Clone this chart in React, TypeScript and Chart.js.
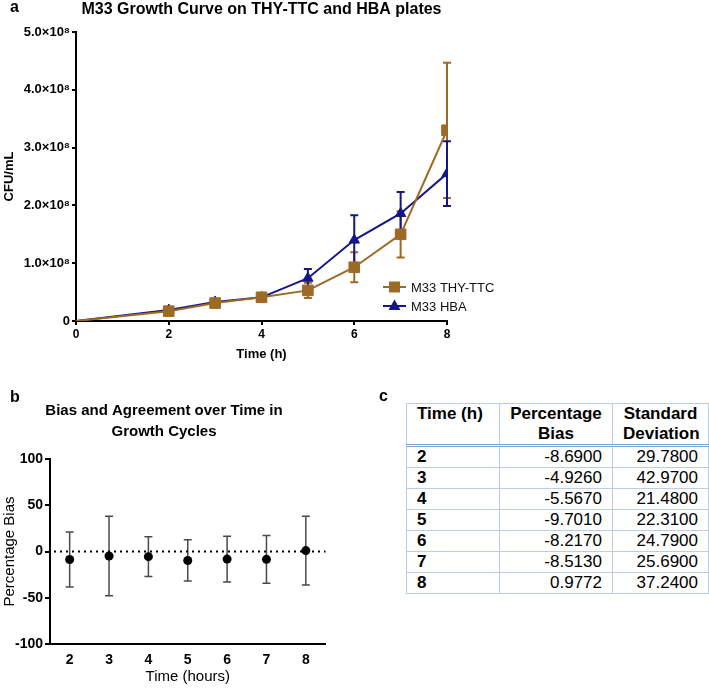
import React, { useEffect, useRef } from "react";
import { Chart, registerables } from "chart.js";

Chart.register(...registerables);

const FONT = "'Liberation Sans', Arial, Helvetica, sans-serif";
Chart.defaults.font.family = FONT;

// ---------- Panel a: growth curve ----------
const hours = [0, 2, 3, 4, 5, 6, 7, 8];
const thyMean = [0, 1.7e7, 3.1e7, 4.1e7, 5.3e7, 9.3e7, 1.5e8, 3.3e8];
const thyErr = [0, 0.3e7, 0.4e7, 0.3e7, 1.3e7, 2.6e7, 4.0e7, 1.17e8];
const hbaMean = [0, 1.9e7, 3.3e7, 4.1e7, 7.4e7, 1.4e8, 1.86e8, 2.55e8];
const hbaErr = [0, 0.2e7, 0.3e7, 0.3e7, 1.6e7, 4.3e7, 3.7e7, 0.56e8];
const cfuTicks = [0, 1e8, 2e8, 3e8, 4e8, 5e8];
const hourTicks = [0, 2, 4, 6, 8];
const seriesNames = ["M33 THY-TTC", "M33 HBA"];
const titleA = "M33 Growth Curve on THY-TTC and HBA plates";

// ---------- Panel b / c: bias ----------
const biasTimes = ["2", "3", "4", "5", "6", "7", "8"];
const biasValues = [-8.69, -4.926, -5.567, -9.701, -8.217, -8.513, 0.9772];
const sdValues = [29.78, 42.97, 21.48, 22.31, 24.79, 25.69, 37.24];
const biasTicks = [-100, -50, 0, 50, 100];
const tableHeaders = [["Time (h)"], ["Percentage", "Bias"], ["Standard", "Deviation"]];

const BROWN = "#9d6a25";
const NAVY = "#161688";

const errorBarsPlugin = {
  id: "errorBars",
  beforeDatasetsDraw(chart: any) {
    const { ctx } = chart;
    const yScale = chart.scales.y;
    chart.data.datasets.forEach((ds: any, i: number) => {
      const errs: number[] | undefined = ds.errorBars;
      if (!errs) return;
      const meta = chart.getDatasetMeta(i);
      ctx.save();
      ctx.strokeStyle = ds.errorColor || ds.borderColor;
      ctx.lineWidth = ds.errorWidth || 2;
      meta.data.forEach((pt: any, j: number) => {
        const e = errs[j];
        if (!e) return;
        const raw = ds.data[j];
        const v = typeof raw === "number" ? raw : raw.y;
        const yt = yScale.getPixelForValue(v + e);
        const yb = yScale.getPixelForValue(v - e);
        const x = pt.x;
        const c = ds.capHalf || 4;
        ctx.beginPath();
        ctx.moveTo(x, yt);
        ctx.lineTo(x, yb);
        ctx.moveTo(x - c, yt);
        ctx.lineTo(x + c, yt);
        ctx.moveTo(x - c, yb);
        ctx.lineTo(x + c, yb);
        ctx.stroke();
      });
      ctx.restore();
    });
  },
};

const centerTitlePlugin = {
  id: "centerTitle",
  afterDraw(chart: any) {
    const opt = chart.options.plugins.centerTitle;
    if (!opt) return;
    const { ctx, chartArea } = chart;
    ctx.save();
    ctx.fillStyle = "#000";
    ctx.font = `bold ${opt.size}px ${FONT}`;
    ctx.textAlign = "center";
    ctx.textBaseline = "middle";
    ctx.fillText(opt.text, (chartArea.left + chartArea.right) / 2, opt.y);
    ctx.restore();
  },
};

const insideLegendPlugin = {
  id: "insideLegend",
  afterDatasetsDraw(chart: any) {
    if (!chart.options.plugins.insideLegend) return;
    const { ctx, chartArea } = chart;
    ctx.save();
    chart.data.datasets.forEach((d: any, i: number) => {
      const y = chartArea.bottom - 34 + i * 19;
      const x0 = chartArea.right - 64;
      const x1 = chartArea.right - 41;
      ctx.strokeStyle = d.borderColor;
      ctx.lineWidth = 2;
      ctx.beginPath();
      ctx.moveTo(x0, y);
      ctx.lineTo(x1, y);
      ctx.stroke();
      const cx = (x0 + x1) / 2;
      ctx.fillStyle = d.backgroundColor;
      if (d.pointStyle === "rect") {
        ctx.fillRect(cx - 5.5, y - 5.5, 11, 11);
      } else {
        ctx.beginPath();
        ctx.moveTo(cx, y - 6.5);
        ctx.lineTo(cx + 6, y + 4);
        ctx.lineTo(cx - 6, y + 4);
        ctx.closePath();
        ctx.fill();
      }
      ctx.fillStyle = "#111";
      ctx.font = `13px ${FONT}`;
      ctx.textBaseline = "middle";
      ctx.textAlign = "left";
      ctx.fillText(d.label, chartArea.right - 36, y + 1);
    });
    ctx.restore();
  },
};

const zeroLinePlugin = {
  id: "zeroLine",
  beforeDatasetsDraw(chart: any) {
    if (!chart.options.plugins.zeroLine) return;
    const { ctx, chartArea } = chart;
    const y = chart.scales.y.getPixelForValue(0);
    ctx.save();
    ctx.strokeStyle = "#000";
    ctx.lineWidth = 2;
    ctx.setLineDash([2, 4]);
    ctx.beginPath();
    ctx.moveTo(chartArea.left + 4, y);
    ctx.lineTo(chartArea.right, y);
    ctx.stroke();
    ctx.restore();
  },
};

function fmtCfu(v: number) {
  if (v === 0) return "0";
  return `${(v / 1e8).toFixed(1)}×10⁸`;
}

export default function App() {
  const refA = useRef<HTMLCanvasElement>(null);
  const refB = useRef<HTMLCanvasElement>(null);

  useEffect(() => {
    const chartA = new Chart(refA.current as HTMLCanvasElement, {
      type: "line",
      data: {
        datasets: [
          {
            label: seriesNames[0],
            data: hours.map((h, i) => ({ x: h, y: thyMean[i] })),
            borderColor: BROWN,
            backgroundColor: BROWN,
            borderWidth: 2,
            pointStyle: "rect",
            pointRadius: hours.map((h) => (h === 0 ? 0 : 7.5)),
            pointBorderWidth: 1,
            pointBorderColor: BROWN,
            tension: 0,
            errorBars: thyErr,
            capHalf: 4,
          } as any,
          {
            label: seriesNames[1],
            data: hours.map((h, i) => ({ x: h, y: hbaMean[i] })),
            borderColor: NAVY,
            backgroundColor: NAVY,
            borderWidth: 2,
            pointStyle: "triangle",
            pointRadius: hours.map((h) => (h === 0 ? 0 : 6)),
            pointBorderWidth: 1,
            pointBorderColor: NAVY,
            tension: 0,
            errorBars: hbaErr,
            capHalf: 4,
          } as any,
        ],
      },
      options: {
        animation: false,
        responsive: false,
        devicePixelRatio: 1,
        layout: { padding: { left: 0, right: 76, top: 32, bottom: 4 } },
        plugins: {
          legend: { display: false },
          tooltip: { enabled: false },
          title: { display: false },
          centerTitle: { text: titleA, size: 16, y: 10 },
          insideLegend: true,
        } as any,
        scales: {
          x: {
            type: "linear",
            min: 0,
            max: 8,
            afterBuildTicks: (s: any) => {
              s.ticks = hourTicks.map((v) => ({ value: v }));
            },
            afterFit: (s: any) => {
              s.height = 45;
            },
            ticks: {
              color: "#000",
              font: { size: 12, weight: "bold", family: FONT },
              padding: 2,
              maxRotation: 0,
            },
            grid: { drawOnChartArea: false, drawTicks: true, tickLength: 4, color: "#000", lineWidth: 2 },
            border: { display: true, color: "#000", width: 2 },
            title: {
              display: true,
              text: "Time (h)",
              color: "#000",
              font: { size: 13, weight: "bold", family: FONT },
              padding: { top: 4, bottom: 4 },
            },
          },
          y: {
            type: "linear",
            min: 0,
            max: 5e8,
            afterBuildTicks: (s: any) => {
              s.ticks = cfuTicks.map((v) => ({ value: v }));
            },
            afterFit: (s: any) => {
              s.width = 76;
            },
            ticks: {
              color: "#000",
              font: { size: 13, weight: "bold", family: FONT },
              padding: 2,
              callback: (v: any) => fmtCfu(Number(v)),
            },
            grid: { drawOnChartArea: false, drawTicks: true, tickLength: 4, color: "#000", lineWidth: 2 },
            border: { display: true, color: "#000", width: 2 },
            title: {
              display: true,
              text: "CFU/mL",
              color: "#000",
              font: { size: 13, weight: "bold", family: FONT },
              padding: { top: 2, bottom: 2 },
            },
          },
        },
      },
      plugins: [errorBarsPlugin, insideLegendPlugin, centerTitlePlugin],
    } as any);

    const chartB = new Chart(refB.current as HTMLCanvasElement, {
      type: "line",
      data: {
        labels: biasTimes,
        datasets: [
          {
            label: "Percentage Bias",
            data: biasValues,
            showLine: false,
            borderColor: "#000",
            backgroundColor: "#000",
            pointRadius: 4.5,
            pointBorderWidth: 0,
            errorBars: sdValues,
            errorColor: "#4a4a4a",
            errorWidth: 1.5,
            capHalf: 4,
          } as any,
        ],
      },
      options: {
        animation: false,
        responsive: false,
        devicePixelRatio: 1,
        layout: { padding: { left: 0, right: 2, top: 0, bottom: 0 } },
        plugins: {
          legend: { display: false },
          tooltip: { enabled: false },
          title: {
            display: true,
            text: ["Bias and Agreement over Time in", "Growth Cycles"],
            color: "#000",
            font: { size: 15, weight: "bold", family: FONT, lineHeight: 1.4 },
            padding: { top: 20.5, bottom: 16.5 },
          },
          zeroLine: true,
        } as any,
        scales: {
          x: {
            type: "category",
            offset: true,
            afterFit: (s: any) => {
              s.height = 44;
            },
            ticks: {
              color: "#000",
              font: { size: 14, weight: "bold", family: FONT },
              padding: 8,
              maxRotation: 0,
            },
            grid: { drawOnChartArea: false, drawTicks: false, color: "#000" },
            border: { display: true, color: "#000", width: 2 },
            title: {
              display: true,
              text: "Time (hours)",
              color: "#000",
              font: { size: 15, family: FONT },
              padding: { top: 2, bottom: 2 },
            },
          },
          y: {
            type: "linear",
            min: -100,
            max: 100,
            afterBuildTicks: (s: any) => {
              s.ticks = biasTicks.map((v) => ({ value: v }));
            },
            afterFit: (s: any) => {
              s.width = 50;
            },
            ticks: {
              color: "#000",
              font: { size: 14, weight: "bold", family: FONT },
              padding: 2,
            },
            grid: { drawOnChartArea: false, drawTicks: true, tickLength: 5, color: "#000", lineWidth: 2 },
            border: { display: true, color: "#000", width: 2 },
            title: {
              display: true,
              text: "Percentage Bias",
              color: "#000",
              font: { size: 15, family: FONT },
              padding: 1,
            },
          },
        },
      },
      plugins: [errorBarsPlugin, zeroLinePlugin],
    } as any);

    return () => {
      chartA.destroy();
      chartB.destroy();
    };
  }, []);

  const panelLabel = (t: string, left: number, top: number) => (
    <div
      style={{
        position: "absolute",
        left,
        top,
        font: `bold 16px ${FONT}`,
        lineHeight: 1,
        color: "#000",
      }}
    >
      {t}
    </div>
  );

  const cellBorder = "1px solid #b9cde6";
  const thStyle: React.CSSProperties = {
    border: cellBorder,
    borderBottom: "3px double #7fa3cf",
    padding: "0 10px",
    fontWeight: "bold",
    verticalAlign: "top",
    lineHeight: "20px",
  };
  const tdStyle: React.CSSProperties = {
    border: cellBorder,
    padding: "0 10px",
    lineHeight: "20px",
    height: 20,
  };

  return (
    <div
      style={{
        position: "absolute",
        left: 0,
        top: 0,
        width: 709,
        height: 688,
        overflow: "hidden",
        background: "#fff",
        fontFamily: FONT,
      }}
    >
      <canvas ref={refA} width={523} height={370} style={{ position: "absolute", left: 0, top: 0 }} />
      <canvas ref={refB} width={330} height={308} style={{ position: "absolute", left: 0, top: 380 }} />
      {panelLabel("a", 10, -1.5)}
      {panelLabel("b", 10, 388.5)}
      {panelLabel("c", 379, 387.5)}
      <table
        style={{
          position: "absolute",
          left: 406,
          top: 403,
          width: 302,
          borderCollapse: "collapse",
          tableLayout: "fixed",
          font: `17px ${FONT}`,
          color: "#000",
        }}
      >
        <colgroup>
          <col style={{ width: 93 }} />
          <col style={{ width: 113 }} />
          <col style={{ width: 96 }} />
        </colgroup>
        <thead>
          <tr>
            {tableHeaders.map((lines, i) => (
              <th key={i} style={{ ...thStyle, textAlign: i === 0 ? "left" : "center" }}>
                {lines.map((l, k) => (
                  <div key={k}>{l}</div>
                ))}
              </th>
            ))}
          </tr>
        </thead>
        <tbody>
          {biasTimes.map((t, i) => (
            <tr key={t}>
              <td style={{ ...tdStyle, fontWeight: "bold", textAlign: "left" }}>{t}</td>
              <td style={{ ...tdStyle, textAlign: "right" }}>{biasValues[i].toFixed(4)}</td>
              <td style={{ ...tdStyle, textAlign: "right" }}>{sdValues[i].toFixed(4)}</td>
            </tr>
          ))}
        </tbody>
      </table>
    </div>
  );
}
